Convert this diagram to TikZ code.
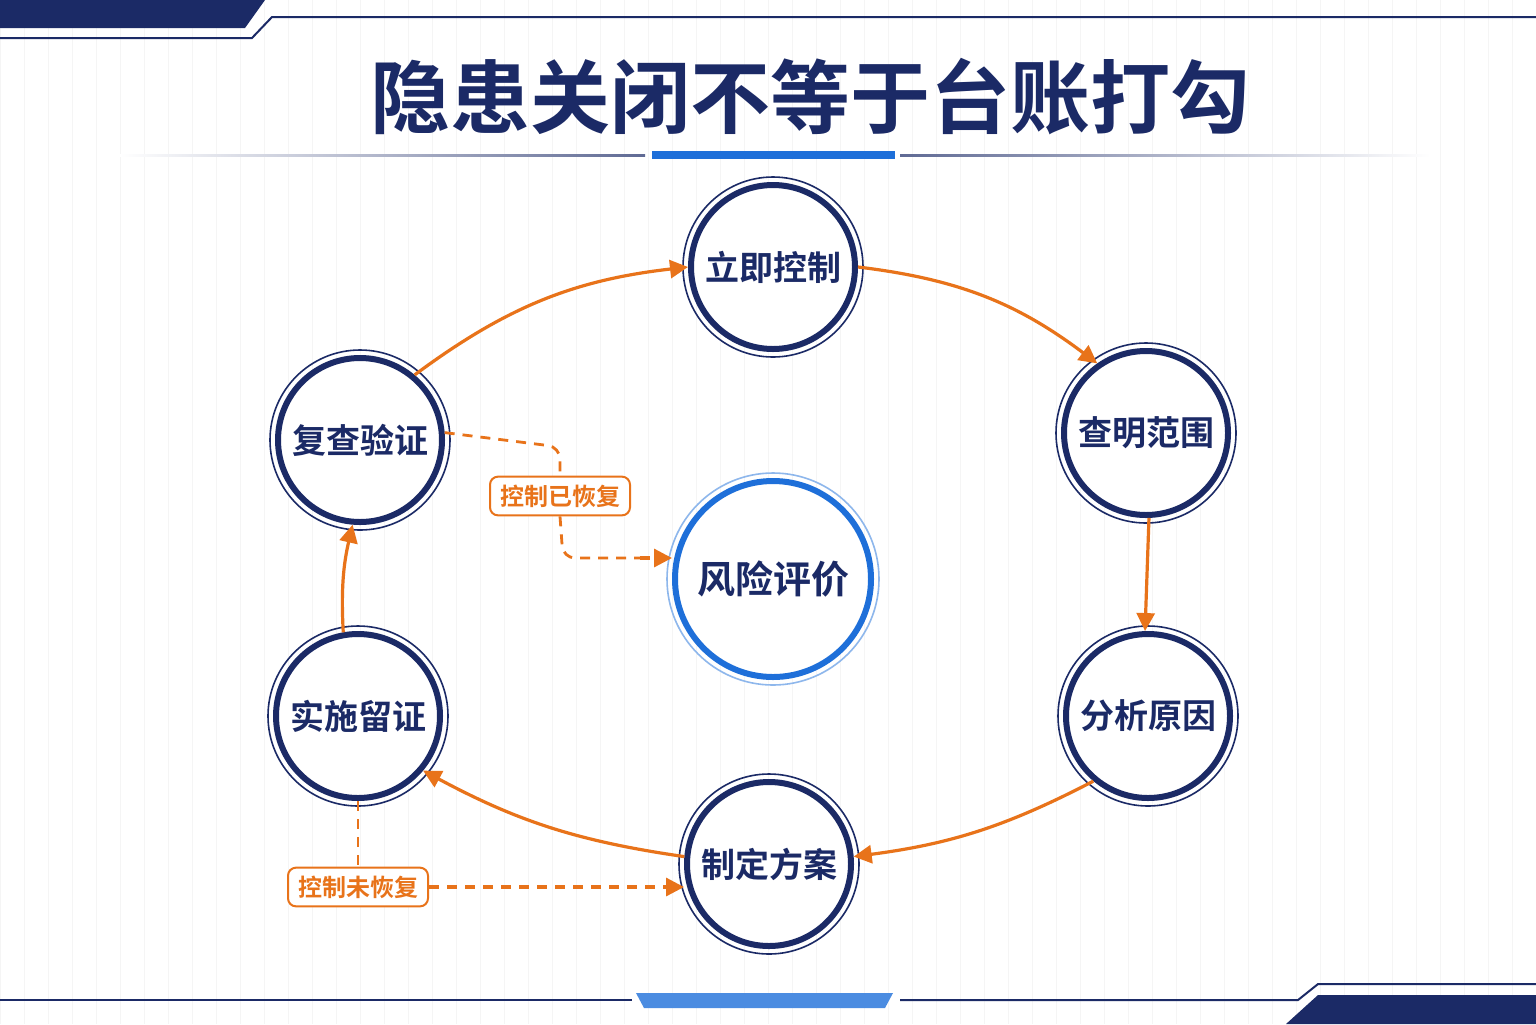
\documentclass[tikz,border=0pt]{standalone}
\usepackage{fontspec}
\newfontfamily\cjk{Noto Sans CJK SC Bold}
\usetikzlibrary{arrows.meta}
\definecolor{navy}{HTML}{1B2A66}
\definecolor{org}{HTML}{E8731A}
\definecolor{blu}{HTML}{1E6FD9}
\begin{document}
\begin{tikzpicture}[x=0.5pt,y=-0.5pt,
  stp/.style={circle,draw=navy,line width=3pt,minimum size=82pt,inner sep=0pt,font=\cjk\fontsize{17}{17}\selectfont,text=navy,fill=white},
  ring/.style={circle,draw=navy,line width=0.8pt,minimum size=90pt,inner sep=0pt},
  arr/.style={draw=org,line width=1.6pt,-{Triangle[length=9pt,width=9pt]}},
  dsh/.style={draw=org,line width=1.4pt,dash pattern=on 5pt off 4pt},
  tag/.style={draw=org,line width=1pt,rounded corners=4pt,fill=white,text=org,font=\cjk\fontsize{12}{12}\selectfont,inner xsep=5pt,inner ysep=4pt}]
\useasboundingbox (0,0) rectangle (1536,1024);
\fill[white] (0,0) rectangle (1536,1024);
\draw[black!4,line width=0.4pt] (0,0) grid[step=24] (1536,1024);
% top decorations
\fill[navy] (0,0) -- (265,0) -- (245,28) -- (0,28) -- cycle;
\draw[navy,line width=1pt] (0,38) -- (252,38) -- (272,17) -- (1536,17);
% title
\node (title) at (810,97) {\cjk\fontsize{40}{40}\selectfont\color{navy}隐患关闭不等于台账打勾};
\shade[left color=white,right color=navy!70] (120,154) rectangle (645,156);
\shade[left color=navy!70,right color=white] (900,154) rectangle (1430,156);
\fill[blu] (652,151) rectangle (895,159);
% bottom decorations
\draw[navy,line width=1pt] (0,1000) -- (632,1000);
\draw[navy,line width=1pt] (900,1000) -- (1298,1000) -- (1318,984) -- (1536,984);
\fill[blu!80] (636,993) -- (893,993) -- (885,1008) -- (644,1008) -- cycle;
\fill[navy] (1286,1024) -- (1318,995) -- (1536,995) -- (1536,1024) -- cycle;
% rings
\foreach \p in {(773,267),(1146,433),(1148,716),(769,864),(358,716),(360,440)}
  \node[ring] at \p {};
\node[stp] (a) at (773,267) {立即控制};
\node[stp] (b) at (1146,433) {查明范围};
\node[stp] (c) at (1148,716) {分析原因};
\node[stp] (d) at (769,864) {制定方案};
\node[stp] (e) at (358,716) {实施留证};
\node[stp] (f) at (360,440) {复查验证};
\node[circle,draw=blu!50,line width=0.8pt,minimum size=106pt] at (773,579) {};
\node[circle,draw=blu,line width=3pt,minimum size=98pt,fill=white,text=navy,font=\cjk\fontsize{19}{19}\selectfont] (r) at (773,579) {风险评价};
% arrows
\draw[arr] (f.50) to[bend left=15] (a.180);
\draw[arr] (a.0) to[bend left=15] (b.125);
\draw[arr] (b.-88) -- (c.92);
\draw[arr] (c.-130) to[bend left=10] (d.5);
\draw[arr] (d.175) to[bend left=10] (e.-40);
\draw[arr] (e.100) to[bend left=8] (f.-95);
% dashed
\node[tag] (t1) at (560,496) {控制已恢复};
\node[tag] (t2) at (358,887) {控制未恢复};
\draw[dsh,rounded corners=6pt] (f.5) -- (560,447) -- (t1.north);
\draw[dsh,rounded corners=6pt] (t1.south) -- (563,558) -- (645,558);
\draw[arr,dash pattern=on 5pt off 4pt] (640,558) -- (r.west|-0,558);
\draw[dsh] (e.south) -- (t2.north);
\draw[arr,dash pattern=on 5pt off 4pt] (t2.east) -- (d.west|-0,887);
\end{tikzpicture}
\end{document}
